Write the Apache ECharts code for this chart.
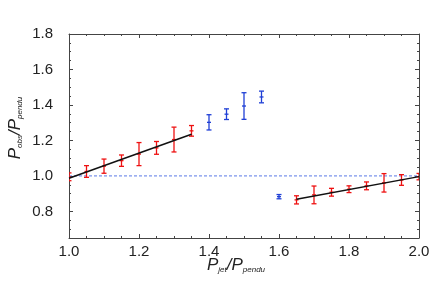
<!DOCTYPE html>
<html>
<head>
<meta charset="utf-8">
<script src="https://cdn.jsdelivr.net/npm/echarts@6/dist/echarts.min.js"></script>
<style>html,body{margin:0;padding:0;background:#fff}#c{width:436px;height:291px}</style>
</head>
<body>
<div id="c"></div>
<script>
// ---- data ----
const redLeftX = [1.0, 1.05, 1.1, 1.15, 1.2, 1.25, 1.3, 1.35];
const redLeftY = [0.995, 1.025, 1.055, 1.086, 1.123, 1.158, 1.205, 1.254];
const redLeftErr = [0.022, 0.033, 0.04, 0.032, 0.065, 0.036, 0.07, 0.03];
const blueX = [1.4, 1.45, 1.5, 1.55, 1.6];
const blueY = [1.302, 1.348, 1.394, 1.445, 0.883];
const blueErr = [0.043, 0.03, 0.075, 0.033, 0.012];
const redRightX = [1.65, 1.7, 1.75, 1.8, 1.85, 1.9, 1.95, 2.0];
const redRightY = [0.865, 0.893, 0.908, 0.925, 0.944, 0.961, 0.977, 0.996];
const redRightErr = [0.023, 0.05, 0.022, 0.019, 0.022, 0.052, 0.03, 0.018];
const fitLeftX = [1.0, 1.35];
const fitLeftY = [0.987, 1.235];
const fitRightX = [1.65, 2.0];
const fitRightY = [0.869, 0.996];
const refX = [1.0, 2.0];
const refY = [1.0, 1.0];
const yMajorTicks = [0.8, 1.0, 1.2, 1.4, 1.6, 1.8];

function errData(xs, ys, es) {
  return xs.map((x, i) => [x, ys[i], ys[i] - es[i], ys[i] + es[i]]);
}
function pairs(xs, ys) { return xs.map((x, i) => [x, ys[i]]); }

function makeRender(color) {
  return function (params, api) {
    const x = api.value(0), y = api.value(1), lo = api.value(2), hi = api.value(3);
    const pH = api.coord([x, hi]), pL = api.coord([x, lo]), pC = api.coord([x, y]);
    const w = 2.5;
    const st = { stroke: color, lineWidth: 1.3 };
    return {
      type: 'group',
      children: [
        { type: 'line', shape: { x1: pH[0], y1: pH[1], x2: pL[0], y2: pL[1] }, style: st },
        { type: 'line', shape: { x1: pH[0] - w, y1: pH[1], x2: pH[0] + w, y2: pH[1] }, style: st },
        { type: 'line', shape: { x1: pL[0] - w, y1: pL[1], x2: pL[0] + w, y2: pL[1] }, style: st },
        { type: 'line', shape: { x1: pC[0] - 2, y1: pC[1], x2: pC[0] + 2, y2: pC[1] }, style: st }
      ]
    };
  };
}

const axisColor = '#444';
const labelStyle = { color: '#222', fontSize: 15, fontFamily: 'Liberation Sans, Arial, sans-serif' };
const nameRich = {
  i: { fontSize: 17, fontStyle: 'italic', fontFamily: 'Liberation Sans, Arial, sans-serif', color: '#222', lineHeight: 20, verticalAlign: 'bottom' },
  s: { fontSize: 8, fontStyle: 'italic', fontFamily: 'Liberation Sans, Arial, sans-serif', color: '#222', lineHeight: 10, verticalAlign: 'bottom' }
};

const chart = echarts.init(document.getElementById('c'), null, { renderer: 'canvas' });
chart.setOption({
  animation: false,
  grid: { left: 69, right: 17, top: 34, bottom: 53, containLabel: false, outerBoundsMode: 'none' },
  xAxis: [
    {
      type: 'value', position: 'bottom', min: 1.0, max: 2.0, interval: 0.2,
      axisLine: { lineStyle: { color: axisColor, width: 1 } },
      axisTick: { inside: true, length: 4, lineStyle: { color: axisColor } },
      minorTick: { show: true, splitNumber: 4, length: 2, lineStyle: { color: axisColor } },
      splitLine: { show: false },
      axisLabel: Object.assign({ margin: 6, formatter: v => v.toFixed(1) }, labelStyle),
      name: '{i|P}{s|jet}{i|/P}{s|pendu}',
      nameLocation: 'middle', nameGap: 16, nameMoveOverlap: false,
      nameTextStyle: { rich: nameRich, padding: [0, 16, 0, 0] }
    },
    {
      type: 'value', position: 'top', min: 1.0, max: 2.0, interval: 0.2,
      axisLine: { lineStyle: { color: axisColor, width: 1 } },
      axisTick: { inside: true, length: 4, lineStyle: { color: axisColor } },
      minorTick: { show: true, splitNumber: 4, length: 2, lineStyle: { color: axisColor } },
      splitLine: { show: false },
      axisLabel: { show: false }
    }
  ],
  yAxis: [
    {
      type: 'value', position: 'left', min: 0.65, max: 1.8, interval: 0.05,
      axisLine: { show: true, lineStyle: { color: axisColor, width: 1 } },
      axisTick: { show: true, inside: true, length: 2, lineStyle: { color: axisColor } },
      splitLine: { show: false },
      axisLabel: Object.assign({
        margin: 16,
        formatter: v => {
          const r = Math.round(v * 100);
          return (r % 20 === 0) ? (r / 100).toFixed(1) : '';
        }
      }, labelStyle),
      name: '{i|P}{s|obs}{i|/P}{s|pendu}',
      nameLocation: 'middle', nameGap: 45, nameRotate: 90, nameMoveOverlap: false,
      nameTextStyle: { rich: nameRich, padding: [0, 0, 0, 16] }
    },
    {
      type: 'value', position: 'left', offset: 0, min: 0.65, max: 1.8,
      axisLine: { show: false },
      axisTick: { show: true, inside: true, length: 4, customValues: yMajorTicks, lineStyle: { color: axisColor } },
      splitLine: { show: false },
      axisLabel: { show: false }
    },
    {
      type: 'value', position: 'right', offset: 0, min: 0.65, max: 1.8, interval: 0.05,
      axisLine: { show: true, lineStyle: { color: axisColor, width: 1 } },
      axisTick: { show: true, inside: true, length: 2, lineStyle: { color: axisColor } },
      splitLine: { show: false },
      axisLabel: { show: false }
    },
    {
      type: 'value', position: 'right', offset: 0, min: 0.65, max: 1.8,
      axisLine: { show: false },
      axisTick: { show: true, inside: true, length: 4, customValues: yMajorTicks, lineStyle: { color: axisColor } },
      splitLine: { show: false },
      axisLabel: { show: false }
    }
  ],
  series: [
    {
      type: 'line', data: pairs(refX, refY), showSymbol: false, symbol: 'none',
      lineStyle: { color: '#5a78e6', width: 1, type: [3, 2] }, z: 1
    },
    {
      type: 'custom', renderItem: makeRender('#ee1111'), data: errData(redLeftX, redLeftY, redLeftErr),
      encode: { x: 0, y: 1 }, clip: true, z: 2
    },
    {
      type: 'custom', renderItem: makeRender('#1f3fd6'), data: errData(blueX, blueY, blueErr),
      encode: { x: 0, y: 1 }, clip: true, z: 2
    },
    {
      type: 'custom', renderItem: makeRender('#ee1111'), data: errData(redRightX, redRightY, redRightErr),
      encode: { x: 0, y: 1 }, clip: true, z: 2
    },
    {
      type: 'line', data: pairs(fitLeftX, fitLeftY), showSymbol: false, symbol: 'none',
      lineStyle: { color: '#111', width: 1.5 }, z: 3
    },
    {
      type: 'line', data: pairs(fitRightX, fitRightY), showSymbol: false, symbol: 'none',
      lineStyle: { color: '#111', width: 1.5 }, z: 3
    }
  ]
});
</script>
</body>
</html>
